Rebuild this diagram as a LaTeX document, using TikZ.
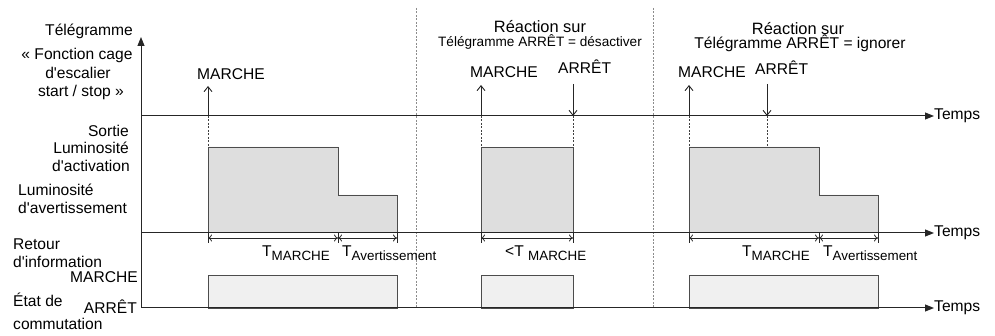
\documentclass[tikz,border=0pt]{standalone}
\usepackage{fontspec}
\setmainfont{Liberation Sans}[Ligatures=TeXOff]
\usetikzlibrary{arrows.meta}
\newcommand{\bigf}{\fontsize{15.6}{18.5}\selectfont}
\newcommand{\subf}{\fontsize{13.4}{16}\selectfont}
\begin{document}
\begin{tikzpicture}[x=1pt,y=-1pt,
 axisline/.style={line width=1pt, draw=black!85},
 axisarrow/.style={axisline,-{Triangle[length=9pt,width=7pt]}},
 sep/.style={draw=black!45, line width=1pt, dash pattern=on 2pt off 1.5pt},
 guide/.style={draw=black!75, line width=0.7pt, dash pattern=on 2pt off 1.5pt},
 tel/.style={draw=black!85, line width=0.9pt, -{Straight Barb[length=5pt,width=8pt]}},
 outbox/.style={fill=black!13, draw=black!70, line width=0.9pt},
 retbox/.style={fill=black!6, draw=black!70, line width=0.9pt},
 dim/.style={draw=black!85, line width=0.8pt, {To[length=4pt,width=7pt]}-{To[length=4pt,width=7pt]}},
 tick/.style={draw=black!85, line width=0.8pt},
 lbl/.style={inner sep=0pt, font=\bigf},
 head/.style={inner sep=0pt, font=\fontsize{16.4}{19}\selectfont},
 small/.style={inner sep=0pt, font=\fontsize{13.6}{16}\selectfont},
]
\useasboundingbox (0,0) rectangle (995,336);

% separators
\coordinate (s1t) at (416,8); \coordinate (s1b) at (416,308);
\coordinate (s2t) at (653,8); \coordinate (s2b) at (653,308);
\draw[sep] (s1t) -- (s1b);
\draw[sep] (s2t) -- (s2b);

% boxes (output)
\coordinate (b1a) at (208,233); \coordinate (b1b) at (208,147); \coordinate (b1c) at (338,147);
\coordinate (b1d) at (338,195); \coordinate (b1e) at (397,195); \coordinate (b1f) at (397,233);
\draw[outbox] (b1a) -- (b1b) -- (b1c) -- (b1d) -- (b1e) -- (b1f);
\coordinate (b2a) at (481,233); \coordinate (b2b) at (481,147); \coordinate (b2c) at (573,147); \coordinate (b2d) at (573,233);
\draw[outbox] (b2a) -- (b2b) -- (b2c) -- (b2d);
\coordinate (b3a) at (689,233); \coordinate (b3b) at (689,147); \coordinate (b3c) at (819,147);
\coordinate (b3d) at (819,195); \coordinate (b3e) at (878,195); \coordinate (b3f) at (878,233);
\draw[outbox] (b3a) -- (b3b) -- (b3c) -- (b3d) -- (b3e) -- (b3f);

% feedback boxes
\coordinate (r1a) at (208,308); \coordinate (r1b) at (397,275);
\coordinate (r2a) at (481,308); \coordinate (r2b) at (573,275);
\coordinate (r3a) at (689,308); \coordinate (r3b) at (878,275);
\draw[retbox] (r1a) rectangle (r1b);
\draw[retbox] (r2a) rectangle (r2b);
\draw[retbox] (r3a) rectangle (r3b);

% axes
\coordinate (O) at (141,308);
\coordinate (Ytop) at (141,37);
\coordinate (A1) at (141,116);
\coordinate (A2) at (141,233);
\node[lbl,anchor=west] (temps1) at (934,116) {Temps};
\node[lbl,anchor=west] (temps2) at (934,233) {Temps};
\node[lbl,anchor=west] (temps3) at (934,308) {Temps};
\draw[axisarrow] (O) -- (Ytop);
\draw[axisarrow] (A1) -- (temps1.west);
\draw[axisarrow] (A2) -- (temps2.west);
\draw[axisarrow] (O) -- (temps3.west);

% telegram arrows
\coordinate (m1) at (208,116); \coordinate (m1t) at (208,86);
\coordinate (m2) at (481,116); \coordinate (m2t) at (481,85);
\coordinate (m3) at (689,116); \coordinate (m3t) at (689,85);
\draw[tel] (m1) -- (m1t);
\draw[tel] (m2) -- (m2t);
\draw[tel] (m3) -- (m3t);
\coordinate (a2t) at (573,84); \coordinate (a2) at (573,116);
\coordinate (a3t) at (767,84); \coordinate (a3) at (767,116);
\draw[tel] (a2t) -- (a2);
\draw[tel] (a3t) -- (a3);

\node[lbl,anchor=base west] (lm1) at (197,80) {MARCHE};
\node[lbl,anchor=base west] (lm2) at (470,78) {MARCHE};
\node[lbl,anchor=base west] (lm3) at (678,78) {MARCHE};
\node[lbl,anchor=base west] (la2) at (558,74) {ARRÊT};
\node[lbl,anchor=base west] (la3) at (755,75) {ARRÊT};

% guides
\draw[guide] (m1) -- (b1b);
\draw[guide] (m2) -- (b2b);
\draw[guide] (m3) -- (b3b);
\draw[guide] (a2) -- (b2c);
\coordinate (g3) at (767,147);
\draw[guide] (a3) -- (g3);

% dimension lines
\foreach \n/\x in {t1/208,t2/338,t3/397,t4/481,t5/573,t6/689,t7/819,t8/878}{
  \coordinate (\n a) at (\x,233); \coordinate (\n b) at (\x,243); \coordinate (\n m) at (\x,238);
  \draw[tick] (\n a) -- (\n b);
}
\draw[dim] (t1m) -- (t2m);
\draw[dim] (t2m) -- (t3m);
\draw[dim] (t4m) -- (t5m);
\draw[dim] (t6m) -- (t7m);
\draw[dim] (t7m) -- (t8m);

\node[lbl,anchor=base west] (d1) at (262,257) {T\raisebox{-4pt}{\subf MARCHE}};
\node[lbl,anchor=base west] (d2) at (342,257) {T\raisebox{-4pt}{\subf Avertissement}};
\node[lbl,anchor=base west] (d3) at (505,257) {<T\ \raisebox{-4pt}{\subf MARCHE}};
\node[lbl,anchor=base west] (d4) at (742,257) {T\raisebox{-4pt}{\subf MARCHE}};
\node[lbl,anchor=base west] (d5) at (823,257) {T\raisebox{-4pt}{\subf Avertissement}};

% headers
\node[head,anchor=base] (h1) at (540,33) {Réaction sur};
\node[small,anchor=base] (h2) at (540,47) {Télégramme ARRÊT = désactiver};
\node[head,anchor=base] (h3) at (798,35) {Réaction sur};
\node[lbl,anchor=base] (h4) at (800,49) {Télégramme ARRÊT = ignorer};

% left labels
\node[lbl,anchor=base east] (L1) at (133,36) {Télégramme};
\node[lbl,anchor=base] (L2) at (77,60) {« Fonction cage};
\node[lbl,anchor=base] (L3) at (78,79) {d'escalier};
\node[lbl,anchor=base] (L4) at (81,97) {start / stop »};
\node[lbl,anchor=base east] (L5) at (129,137) {Sortie};
\node[lbl,anchor=base east] (L6) at (129,154) {Luminosité};
\node[lbl,anchor=base east] (L7) at (130,171.5) {d'activation};
\node[lbl,anchor=base west] (L8) at (18,196) {Luminosité};
\node[lbl,anchor=base west] (L9) at (18,213.5) {d'avertissement};
\node[lbl,anchor=base west] (L10) at (13,250) {Retour};
\node[lbl,anchor=base west] (L11) at (13,268) {d'information};
\node[lbl,anchor=base east] (L12) at (138,283) {MARCHE};
\node[lbl,anchor=base west] (L13) at (13,307) {État de};
\node[lbl,anchor=base east] (L14) at (137,313) {ARRÊT};
\node[lbl,anchor=base west] (L15) at (13,330) {commutation};
\end{tikzpicture}
\end{document}
